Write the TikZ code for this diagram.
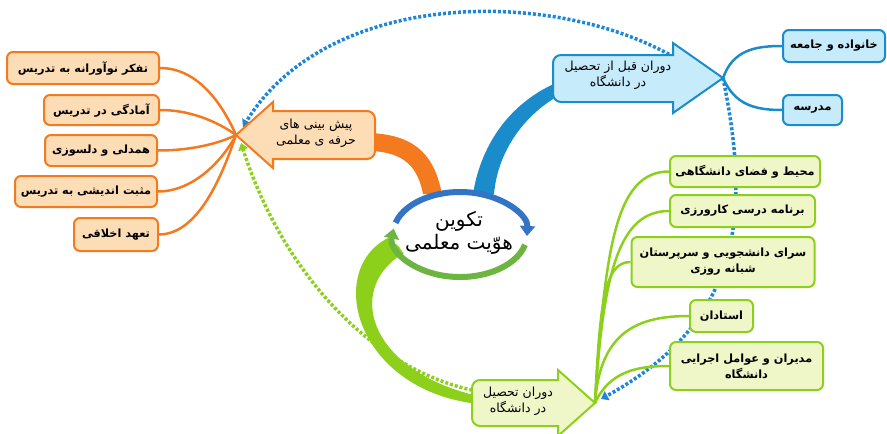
\documentclass[tikz,border=0pt]{standalone}
\usepackage{fontspec}
\newfontfamily\ar[Script=Arabic]{DejaVu Sans}
\TeXXeTstate=1
\usetikzlibrary{arrows.meta,calc}
\pgfdeclarelayer{bg}
\pgfsetlayers{bg,main}
\newcommand\rl[1]{\beginR #1\endR}
\definecolor{oL}{HTML}{F47A1F}
\definecolor{oF}{HTML}{FDDDB5}
\definecolor{bL}{HTML}{1A8BCB}
\definecolor{bF}{HTML}{C6EBFA}
\definecolor{gL}{HTML}{8CD01C}
\definecolor{gF}{HTML}{EFF6C8}
\definecolor{dB}{HTML}{1E86D8}
\definecolor{rB}{HTML}{3474C4}
\definecolor{rG}{HTML}{6DB540}
\begin{document}
\begin{tikzpicture}[x=1pt,y=-1pt,
  leaf/.style={line width=2pt, rounded corners=6pt, inner sep=0pt, align=center,
    font=\ar\bfseries\fontsize{11.3}{16}\selectfont},
  leafo/.style={leaf, draw=oL, fill=oF},
  leafb/.style={leaf, draw=bL, fill=bF},
  leafg/.style={leaf, draw=gL, fill=gF},
  atext/.style={font=\ar\fontsize{12.5}{16}\selectfont, align=center, inner sep=0pt},
  dotline/.style={line width=3.5pt, dash pattern=on 3pt off 2pt},
  conn/.style={line width=2.5pt},
  ashape/.style={line width=2pt}]
\useasboundingbox (0,0) rectangle (887,434);
% key points
\coordinate (c) at (460,234.5);
\coordinate (otip) at (236,135);
\coordinate (btip) at (723,78);
\coordinate (gtip) at (595,403);
\coordinate (oend1) at (243,127);
\coordinate (oend2) at (241,143);
\coordinate (gend) at (601,399);
\coordinate (bstart) at (682,62);
\coordinate (gstart) at (482,392);

% arrow shapes
\filldraw[ashape, draw=oL, fill=oF] (otip) -- (273,102) -- (273,111) -- (367,111)
  arc[start angle=-90,end angle=0,radius=8] -- (375,151)
  arc[start angle=0,end angle=90,radius=8] -- (273,159) -- (273,168) -- cycle;
\filldraw[ashape, draw=bL, fill=bF] (btip) -- (673,43) -- (673,55) -- (561,55)
  arc[start angle=-90,end angle=-180,radius=8] -- (553,94)
  arc[start angle=180,end angle=90,radius=8] -- (673,102) -- (673,113) -- cycle;
\filldraw[ashape, draw=gL, fill=gF] (gtip) -- (558,370) -- (558,380) -- (480,380)
  arc[start angle=-90,end angle=-180,radius=8] -- (472,418)
  arc[start angle=180,end angle=90,radius=8] -- (558,426) -- (558,436) -- cycle;

\node[atext] (otext) at (316,133) {\rl{پیش بینی های}\\\rl{حرفه ی معلمی}};
\node[atext] (btext) at (618,75) {\rl{دوران قبل از تحصیل}\\\rl{در دانشگاه}};
\node[atext] (gtext) at (518,401) {\rl{دوران تحصیل}\\\rl{در دانشگاه}};

% centre ring
\fill[white] (c) ellipse[x radius=64,y radius=39];
\draw[rB, line width=6pt, -{Triangle[width=15pt,length=10pt]}]
  ($(c)+(196:67 and 42.5)$) arc[start angle=196,end angle=362,x radius=67,y radius=42.5];
\draw[rG, line width=6pt, -{Triangle[width=15pt,length=10pt]}]
  ($(c)+(14:67 and 42.5)$) arc[start angle=14,end angle=188,x radius=67,y radius=42.5];
\node[font=\ar\fontsize{20}{23}\selectfont, align=center, inner sep=0pt] (ctext) at (459,233)
  {\rl{تکوین}\\\rl{هوّیت معلمی}};

% leaves
\node[leafo, minimum width=152pt, minimum height=32pt] (o1) at (83,68) {\rl{تفکر نوآورانه به تدریس}};
\node[leafo, minimum width=115pt, minimum height=30pt] (o2) at (101.5,110) {\rl{آمادگی در تدریس}};
\node[leafo, minimum width=112pt, minimum height=31pt] (o3) at (101,150.5) {\rl{همدلی و دلسوزی}};
\node[leafo, minimum width=142pt, minimum height=31pt] (o4) at (86,191.5) {\rl{مثبت اندیشی به تدریس}};
\node[leafo, minimum width=84pt, minimum height=33pt] (o5) at (116,234.5) {\rl{تعهد اخلاقی}};

\node[leafb, minimum width=102pt, minimum height=32pt] (b1) at (834,46) {\rl{خانواده و جامعه}};
\node[leafb, minimum width=59pt, minimum height=30pt] (b2) at (812.5,110) {\rl{مدرسه}};

\node[leafg, minimum width=150pt, minimum height=31pt] (g1) at (745,171.5) {\rl{محیط و فضای دانشگاهی}};
\node[leafg, minimum width=145pt, minimum height=32pt] (g2) at (742.5,211) {\rl{برنامه درسی کارورزی}};
\node[leafg, minimum width=183pt, minimum height=50pt] (g3) at (723,262) {\rl{سرای دانشجویی و سرپرستان}\\\rl{شبانه روزی}};
\node[leafg, minimum width=63pt, minimum height=32pt] (g4) at (721.5,316) {\rl{استادان}};
\node[leafg, minimum width=153pt, minimum height=48pt] (g5) at (746.5,366) {\rl{مدیران و عوامل اجرایی}\\\rl{دانشگاه}};

\begin{pgfonlayer}{bg}
% dotted relations
\draw[dotline, dB, -{Triangle[width=10pt,length=7pt]}] (bstart) .. controls (565,-12) and (330,-15) .. (oend1);
\draw[dotline, dB, -{Triangle[width=10pt,length=7pt]}] (btip) .. controls (750,210) and (745,320) .. (gend);
\draw[dotline, gL, -{Triangle[width=10pt,length=7pt]}] (gstart) .. controls (380,375) and (285,280) .. (oend2);
% thick branches
\fill[oL] (370,133) .. controls (420,135) and (435,160) .. (442,194) -- (423,194) .. controls (418,168) and (405,152) .. (370,151) -- cycle;
\fill[bL] (473,194) .. controls (480,150) and (505,105) .. (558,82) -- (558,96) .. controls (525,115) and (498,150) .. (494,194) -- cycle;
\fill[gL] (388,238) .. controls (325,270) and (355,390) .. (478,404) -- (478,396) .. controls (365,370) and (345,285) .. (406,252) -- cycle;
% leaf connectors
\draw[conn, oL] (o1.east) .. controls (200,68) and (224,108) .. (otip);
\draw[conn, oL] (o2.east) .. controls (195,110) and (222,125) .. (otip);
\draw[conn, oL] (o3.east) .. controls (195,150.5) and (222,142) .. (otip);
\draw[conn, oL] (o4.east) .. controls (195,191.5) and (224,158) .. (otip);
\draw[conn, oL] (o5.east) .. controls (200,234.5) and (224,170) .. (otip);
\draw[conn, bL] (btip) .. controls (733,50) and (755,46) .. (b1.west);
\draw[conn, bL] (btip) .. controls (735,105) and (755,110) .. (b2.west);
\draw[conn, gL] (gtip) .. controls (605,250) and (615,171.5) .. (g1.west);
\draw[conn, gL] (gtip) .. controls (603,270) and (620,211) .. (g2.west);
\draw[conn, gL] (gtip) .. controls (600,300) and (605,262) .. (g3.west);
\draw[conn, gL] (gtip) .. controls (600,330) and (640,316) .. (g4.west);
\draw[conn, gL] (gtip) .. controls (610,370) and (640,366) .. (g5.west);
\end{pgfonlayer}
\end{tikzpicture}
\end{document}
